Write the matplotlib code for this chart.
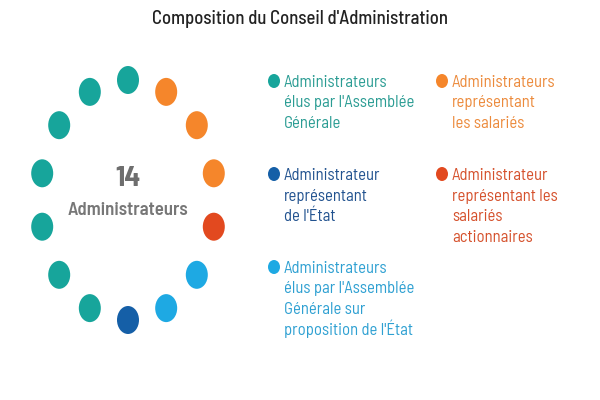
import numpy as np
import matplotlib
matplotlib.use("Agg")
import matplotlib.pyplot as plt
from matplotlib.patches import Ellipse

# ---- data ----
total_label = "14"
center_label = "Administrateurs"
title = "Composition du Conseil d'Administration"
categories = [
    "Administrateurs\nélus par l'Assemblée\nGénérale",
    "Administrateurs\nreprésentant\nles salariés",
    "Administrateur\nreprésentant les\nsalariés\nactionnaires",
    "Administrateurs\nélus par l'Assemblée\nGénérale sur\nproposition de l'État",
    "Administrateur\nreprésentant\nde l'État",
]
counts = [7, 3, 1, 2, 1]
dot_colors = ["#17a59b", "#f5862b", "#e2491f", "#1ea9e3", "#155fa7"]
text_colors = ["#2a9c93", "#ec8a3b", "#d5502b", "#2ea0d2", "#21528f"]

plt.rcParams['font.family'] = ["Barlow Semi Condensed", 'DejaVu Sans']

W, H = 600, 400
fig = plt.figure(figsize=(6, 4), dpi=100)
fig.patch.set_facecolor("white")

# ring axes: center at pixel (128,200), rx=88px, ry=120px
cx, cy, rx, ry = 128, 200, 88, 120
ext = 1.3
ax = fig.add_axes([(cx - ext * rx) / W, (H - cy - ext * ry) / H,
                   2 * ext * rx / W, 2 * ext * ry / H])
ax.set_xlim(-ext, ext)
ax.set_ylim(-ext, ext)
ax.axis("off")

n = sum(counts)
step = 2 * np.pi / n
start = np.pi / 2 + 6 * step
seq = []
for c, k in zip(dot_colors, counts):
    seq += [c] * k
for i, c in enumerate(seq):
    a = start - i * step
    ax.add_patch(Ellipse((np.cos(a), np.sin(a)), 22 / rx, 28 / ry,
                         facecolor=c, edgecolor="none"))
ax.text(0, 0.18, total_label, ha="center", va="center", fontsize=21,
        fontweight="bold", color="#6e6e6e")
ax.text(0, -0.09, center_label, ha="center", va="center", fontsize=13.5,
        fontweight="semibold", color="#777777")

# overlay axes in pixel coordinates for title and legend
ov = fig.add_axes([0, 0, 1, 1])
ov.set_xlim(0, W)
ov.set_ylim(H, 0)
ov.axis("off")
ov.text(300, 19.5, title, ha="center", va="center", fontsize=13.5,
        fontweight="medium", color="#222222")

# legend layout: (column x, first baseline y) for each category
slots = [(274, 87), (442, 87), (442, 180), (274, 273), (274, 180)]
line_h = 20.5
for (x, y), lab, dc, tc in zip(slots, categories, dot_colors, text_colors):
    ov.add_patch(Ellipse((x, y - 6), 12, 14, facecolor=dc, edgecolor="none"))
    for j, line in enumerate(lab.split("\n")):
        ov.text(x + 10, y + j * line_h, line, ha="left", va="baseline",
                fontsize=12, color=tc)

fig.savefig("out.png", dpi=100, facecolor="white")
